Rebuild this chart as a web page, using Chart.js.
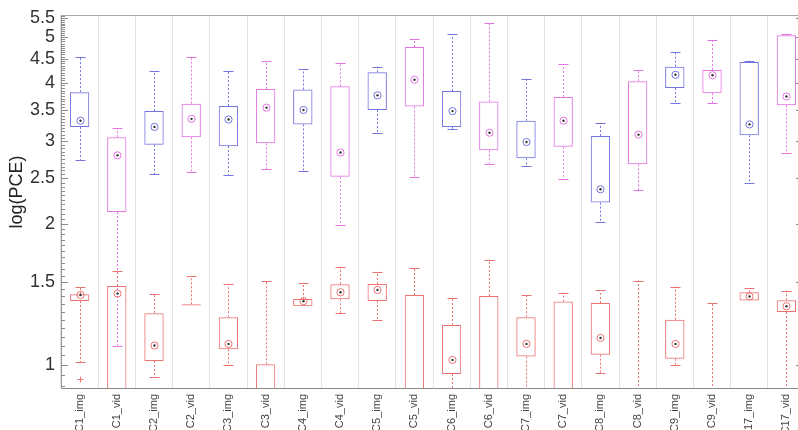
<!DOCTYPE html>
<html>
<head>
<meta charset="utf-8">
<script src="https://cdn.jsdelivr.net/npm/chart.js@4/dist/chart.umd.min.js"></script>
<style>
  html, body { margin: 0; padding: 0; overflow: hidden; background: #fff; width: 798px; height: 430px; }
  #wrap { position: relative; width: 805px; height: 430px; }
  canvas { display: block; }
</style>
</head>
<body>
<div id="wrap"><canvas id="c" width="805" height="430"></canvas></div>
<script>
// Categories (image / video pairs per condition)
const categories = ['C1_img','C1_vid','C2_img','C2_vid','C3_img','C3_vid','C4_img','C4_vid',
  'C5_img','C5_vid','C6_img','C6_vid','C7_img','C7_vid','C8_img','C8_vid','C9_img','C9_vid',
  'C17_img','C17_vid'];

// Upper distribution: whisker low, Q1, median, Q3, whisker high
const upperLow  = [2.74, 1.10, 2.55, 2.58, 2.54, 2.62, 2.59, 1.99, 3.12, 2.52, 3.19, 2.69, 2.66, 2.49, 2.02, 2.36, 3.62, 3.62, 2.44, 2.83];
const upperQ1   = [3.22, 2.12, 2.95, 3.06, 2.93, 2.97, 3.26, 2.52, 3.50, 3.56, 3.22, 2.87, 2.76, 2.92, 2.22, 2.68, 3.90, 3.80, 3.09, 3.58];
const upperMed  = [3.32, 2.80, 3.22, 3.35, 3.34, 3.54, 3.50, 2.84, 3.76, 4.06, 3.48, 3.13, 2.99, 3.32, 2.37, 3.10, 4.16, 4.15, 3.26, 3.74];
const upperQ3   = [3.82, 3.06, 3.48, 3.61, 3.57, 3.88, 3.87, 3.93, 4.21, 4.77, 3.84, 3.65, 3.32, 3.73, 3.08, 4.03, 4.33, 4.26, 4.43, 5.05];
const upperHigh = [4.53, 3.20, 4.23, 4.54, 4.23, 4.45, 4.27, 4.41, 4.33, 4.96, 5.08, 5.36, 4.08, 4.38, 3.28, 4.25, 4.66, 4.94, 4.46, 5.08];

// Lower distribution: whisker low, Q1, median, Q3, whisker high (null median = not shown)
const lowerLow  = [1.013, 0.50, 0.943, 1.347, 1.000, 0.60, 1.334, 1.291, 1.246, 0.60, 0.80, 0.60, 0.80, 0.60, 0.961, 0.60, 0.998, 0.60, 1.372, 0.80];
const lowerQ1   = [1.370, 0.70, 1.020, 1.340, 1.080, 0.70, 1.334, 1.381, 1.370, 0.70, 0.957, 0.70, 1.042, 0.70, 1.052, 0.70, 1.031, 0.70, 1.372, 1.297];
const lowerMed  = [1.410, 1.42, 1.100, null, 1.109, 0.80, 1.368, 1.429, 1.446, 0.80, 1.025, 0.80, 1.109, 0.80, 1.142, 0.75, 1.109, 0.75, 1.400, 1.334];
const lowerQ3   = [1.415, 1.474, 1.290, 1.347, 1.264, 1.003, 1.383, 1.487, 1.489, 1.410, 1.217, 1.404, 1.264, 1.365, 1.356, 0.85, 1.249, 0.85, 1.429, 1.374];
const lowerHigh = [1.470, 1.590, 1.420, 1.546, 1.490, 1.513, 1.498, 1.621, 1.580, 1.608, 1.392, 1.678, 1.408, 1.427, 1.443, 1.513, 1.470, 1.358, 1.458, 1.441];

// Outliers of the lower distribution: [category index, value]
const lowerOutliers = [[0, 0.934]];

// Labelled y-axis ticks
const yTicks = [1, 1.5, 2, 2.5, 3, 3.5, 4, 4.5, 5, 5.5];

const COL_IMG = '#7474df';
const COL_VID = '#e374e3';
const COL_LOW = '#ec7272';
const upperColor = i => (i % 2 === 0 ? COL_IMG : COL_VID);
const lowerColor = () => COL_LOW;

const groups = [
  { low: upperLow, q1: upperQ1, med: upperMed, q3: upperQ3, high: upperHigh, color: upperColor, outliers: [] },
  { low: lowerLow, q1: lowerQ1, med: lowerMed, q3: lowerQ3, high: lowerHigh, color: lowerColor, outliers: lowerOutliers }
];

// Whiskers, caps, median targets and outliers drawn on top of the box bars
const boxExtras = {
  id: 'boxExtras',
  afterDatasetsDraw(chart) {
    const { ctx, chartArea: a, scales: { x, y } } = chart;
    ctx.save();
    ctx.beginPath();
    ctx.rect(a.left, a.top, a.right - a.left, a.bottom - a.top);
    ctx.clip();
    ctx.lineWidth = 1;
    const capHalf = 5;
    groups.forEach(g => {
      categories.forEach((_, i) => {
        const cx = Math.round(x.getPixelForValue(i)) + 0.5;
        const col = g.color(i);
        const pHi = y.getPixelForValue(g.high[i]);
        const pQ3 = y.getPixelForValue(g.q3[i]);
        const pQ1 = y.getPixelForValue(g.q1[i]);
        const pLo = y.getPixelForValue(g.low[i]);
        ctx.strokeStyle = col;
        ctx.setLineDash([2, 2]);
        ctx.beginPath();
        if (g.high[i] > g.q3[i]) { ctx.moveTo(cx, pQ3); ctx.lineTo(cx, pHi); }
        if (g.low[i] < g.q1[i]) { ctx.moveTo(cx, pQ1); ctx.lineTo(cx, pLo); }
        ctx.stroke();
        ctx.setLineDash([]);
        ctx.beginPath();
        ctx.moveTo(cx - capHalf, Math.round(pHi) + 0.5); ctx.lineTo(cx + capHalf, Math.round(pHi) + 0.5);
        if (g.low[i] < g.q1[i]) {
          ctx.moveTo(cx - capHalf, Math.round(pLo) + 0.5); ctx.lineTo(cx + capHalf, Math.round(pLo) + 0.5);
        }
        ctx.stroke();
        if (g.med[i] !== null) {
          const pm = y.getPixelForValue(g.med[i]);
          ctx.beginPath();
          ctx.arc(cx, pm, 3.6, 0, Math.PI * 2);
          ctx.stroke();
          ctx.beginPath();
          ctx.arc(cx, pm, 1.2, 0, Math.PI * 2);
          ctx.fillStyle = '#333';
          ctx.fill();
        }
      });
      g.outliers.forEach(([i, v]) => {
        const cx = Math.round(x.getPixelForValue(i)) + 0.5;
        const py = Math.round(y.getPixelForValue(v)) + 0.5;
        ctx.strokeStyle = g.color(i);
        ctx.beginPath();
        ctx.moveTo(cx - 3, py); ctx.lineTo(cx + 3, py);
        ctx.moveTo(cx, py - 3); ctx.lineTo(cx, py + 3);
        ctx.stroke();
      });
    });
    ctx.restore();
  },
  afterDraw(chart) {
    const { ctx, chartArea: a, scales: { y } } = chart;
    ctx.save();
    // frame top edge
    ctx.strokeStyle = '#a8a8a8';
    ctx.lineWidth = 1;
    ctx.beginPath();
    ctx.moveTo(a.left, a.top + 0.5); ctx.lineTo(a.right, a.top + 0.5);
    ctx.stroke();
    // inward tick marks on both vertical edges, minor every 0.05
    ctx.strokeStyle = '#8c8c8c';
    ctx.beginPath();
    for (let k = 17; k <= 112; k++) {
      const v = k / 20;
      const py = Math.round(y.getPixelForValue(v)) + 0.5;
      if (py < a.top || py > a.bottom) continue;
      const major = yTicks.includes(v);
      ctx.moveTo(a.left, py); ctx.lineTo(a.left + (major ? 7 : 4), py);
      ctx.moveTo(a.right, py); ctx.lineTo(a.right - (major ? 9 : 4), py);
    }
    ctx.stroke();
    // y-axis title
    ctx.fillStyle = '#222';
    ctx.font = '18px "Liberation Sans", Arial, sans-serif';
    ctx.textAlign = 'center';
    ctx.textBaseline = 'middle';
    ctx.translate(17, 192);
    ctx.rotate(-Math.PI / 2);
    ctx.fillText('log(PCE)', 0, 0);
    ctx.restore();
  }
};

const boxDataset = (g, label) => ({
  type: 'bar',
  label,
  data: categories.map((_, i) => [g.q1[i], g.q3[i]]),
  backgroundColor: 'rgba(0,0,0,0)',
  borderColor: categories.map((_, i) => g.color(i)),
  borderWidth: 1,
  borderSkipped: false,
  grouped: false,
  barPercentage: 0.52,
  categoryPercentage: 1
});

new Chart(document.getElementById('c'), {
  type: 'bar',
  data: {
    labels: categories,
    datasets: [boxDataset(groups[0], 'upper'), boxDataset(groups[1], 'lower')]
  },
  options: {
    responsive: false,
    animation: false,
    layout: { padding: { top: 15, left: 0, right: 0, bottom: 0 } },
    plugins: { legend: { display: false }, tooltip: { enabled: false } },
    scales: {
      x: {
        type: 'category',
        offset: true,
        grid: { offset: true, color: '#e3e3e3', lineWidth: 1, drawTicks: false },
        border: { display: true, color: '#8a8a8a', width: 1 },
        ticks: {
          autoSkip: false, minRotation: 90, maxRotation: 90, padding: 6,
          color: '#444', font: { family: '"Liberation Sans", Arial, sans-serif', size: 11 }
        },
        afterFit(s) { s.height = 42; s.paddingLeft = 0; s.paddingRight = 0; }
      },
      y: {
        type: 'logarithmic',
        min: 0.893,
        max: 5.58,
        grid: { display: false, drawTicks: false },
        border: { display: true, color: '#999', width: 1 },
        afterBuildTicks(s) { s.ticks = yTicks.map(v => ({ value: v })); },
        ticks: {
          padding: 6,
          color: '#333',
          font: { family: '"Liberation Sans", Arial, sans-serif', size: 18 },
          callback: v => String(v)
        },
        afterFit(s) { s.width = 61; s.paddingTop = 0; s.paddingBottom = 0; }
      }
    }
  },
  plugins: [boxExtras]
});
</script>
</body>
</html>
